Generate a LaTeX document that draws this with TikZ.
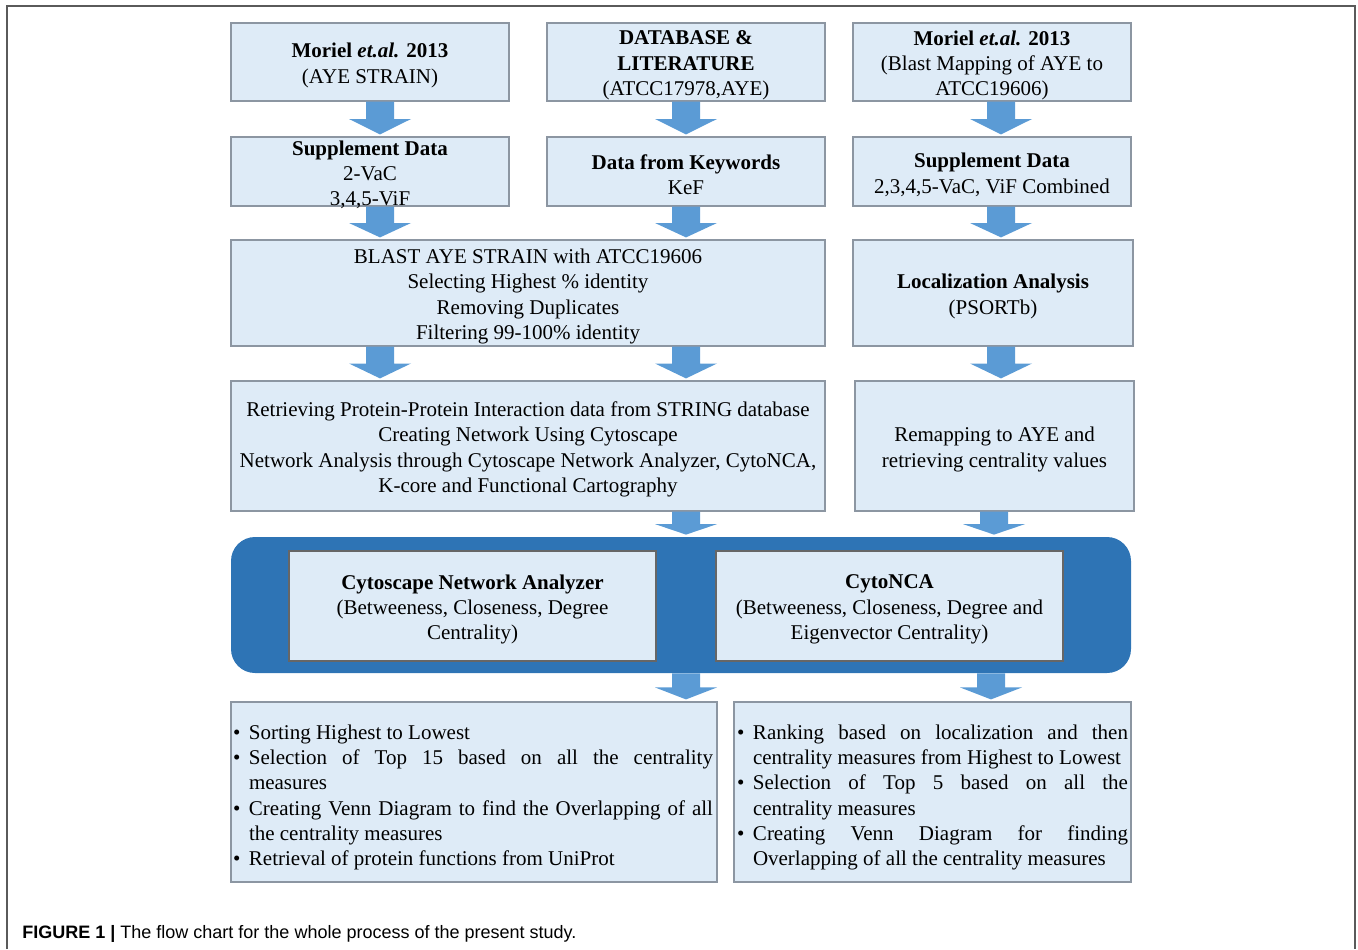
\documentclass[tikz,border=0pt]{standalone}
\usepackage{fontspec}
\setmainfont{Liberation Serif}
\newfontfamily\capfont{Liberation Sans}
\usetikzlibrary{fit,calc}
\definecolor{boxfill}{RGB}{222,235,247}
\definecolor{boxline}{RGB}{140,150,162}
\definecolor{arrowfill}{RGB}{91,155,213}
\definecolor{bigfill}{RGB}{46,116,181}
\definecolor{framec}{RGB}{90,90,90}
\tikzset{
  box/.style={draw=boxline, fill=boxfill, line width=0.6pt, inner sep=0pt},
  txt/.style={align=center, font=\fontsize{10.5}{12.65}\selectfont, inner sep=0pt, yshift=-1.7pt},
  bigbox/.style={fill=bigfill, rounded corners=12pt, inner sep=0pt},
  blist/.style={inner sep=0pt, font=\fontsize{10.5}{12.65}\selectfont, align=justify},
}
\newcommand\nohyph{\hyphenpenalty=10000 \exhyphenpenalty=10000 }
\newcommand\bitem[1]{\par\hangindent=8pt\hangafter=1\noindent\makebox[8pt][l]{\textbullet}#1}
\newcommand\blockarrow[3]{%
  \fill[arrowfill] let \p1=(#2.south -| #1), \p2=(#3.north -| #1), \n1={0.5*(\y1-\y2)} in
  (\x1-7pt,\y1) -- (\x1+7pt,\y1) -- (\x1+7pt,{\y2+\n1*1pt}) -- (\x1+15.5pt,{\y2+\n1*1pt})
  -- (\x1,\y2+1pt) -- (\x1-15.5pt,{\y2+\n1*1pt}) -- (\x1-7pt,{\y2+\n1*1pt}) -- cycle;}
\begin{document}
\begin{tikzpicture}[x=0.5pt,y=-0.5pt]
\useasboundingbox (0,0) rectangle (1358,949);
\draw[framec, line width=0.8pt] (7,949) -- (7,6) -- (1355,6) -- (1355,949);

% row 1
\node[box, fit={(231,23)(509,101)}] (A1) {};
\node[txt] (A1t) at (A1) {\textbf{Moriel \textit{et.al.} 2013}\\(AYE STRAIN)};
\node[box, fit={(547,23)(825,101)}] (B1) {};
\node[txt] (B1t) at (B1) {\textbf{DATABASE \&}\\\textbf{LITERATURE}\\(ATCC17978,AYE)};
\node[box, fit={(853,23)(1131,101)}] (C1) {};
\node[txt] (C1t) at (C1) {\textbf{Moriel \textit{et.al.} 2013}\\(Blast Mapping of AYE to\\ATCC19606)};

% row 2
\node[box, fit={(231,137)(509,206)}] (A2) {};
\node[txt] (A2t) at (A2) {\textbf{Supplement Data}\\2-VaC\\3,4,5-ViF};
\node[box, fit={(547,137)(825,206)}] (B2) {};
\node[txt] (B2t) at (B2) {\textbf{Data from Keywords}\\KeF};
\node[box, fit={(853,137)(1131,206)}] (C2) {};
\node[txt] (C2t) at (C2) {\textbf{Supplement Data}\\2,3,4,5-VaC, ViF Combined};

% row 3
\node[box, fit={(231,240)(825,346)}] (D) {};
\node[txt] (Dt) at (D) {BLAST AYE STRAIN with ATCC19606\\Selecting Highest \% identity\\Removing Duplicates\\Filtering 99-100\% identity};
\node[box, fit={(853,240)(1133,346)}] (C3) {};
\node[txt] (C3t) at (C3) {\textbf{Localization Analysis}\\(PSORTb)};

% row 4
\node[box, fit={(231,381)(825,511)}] (E) {};
\node[txt] (Et) at (E) {Retrieving Protein-Protein Interaction data from STRING database\\Creating Network Using Cytoscape\\Network Analysis through Cytoscape Network Analyzer, CytoNCA,\\K-core and Functional Cartography};
\node[box, fit={(855,381)(1134,511)}] (C4) {};
\node[txt] (C4t) at (C4) {Remapping to AYE and\\retrieving centrality values};

% row 5
\node[bigbox, fit={(231,537)(1131,673)}] (F) {};
\node[box, draw=black!60, fit={(289,551)(656,661)}] (F1) {};
\node[txt] (F1t) at (F1) {\textbf{Cytoscape Network Analyzer}\\(Betweeness, Closeness, Degree\\Centrality)};
\node[box, draw=black!60, fit={(716,551)(1063,661)}] (F2) {};
\node[txt] (F2t) at (F2) {\textbf{CytoNCA}\\(Betweeness, Closeness, Degree and\\Eigenvector Centrality)};

% row 6
\node[box, fit={(231,702)(717,882)}] (G1) {};
\node[blist, text width=240pt] (G1t) at ([xshift=-0.5pt]G1) {\nohyph
\bitem{Sorting Highest to Lowest}
\bitem{Selection of Top 15 based on all the centrality\linebreak measures}
\bitem{Creating Venn Diagram to find the Overlapping of all the centrality measures}
\bitem{Retrieval of protein functions from UniProt}\par};
\node[box, fit={(734,702)(1131,882)}] (G2) {};
\node[blist, text width=195.5pt] (G2t) at (G2) {\nohyph
\bitem{Ranking based on localization and then\linebreak centrality measures from Highest to Lowest}
\bitem{Selection of Top 5 based on all the\linebreak centrality measures}
\bitem{Creating Venn Diagram for finding\linebreak Overlapping of all the centrality measures}\par};

% arrows
\coordinate (xa) at (380,0);
\coordinate (xb) at (686,0);
\coordinate (xc) at (1001,0);
\coordinate (xd) at (994,0);
\coordinate (xe) at (991,0);
\blockarrow{xa}{A1}{A2}
\blockarrow{xb}{B1}{B2}
\blockarrow{xc}{C1}{C2}
\blockarrow{xa}{A2}{D}
\blockarrow{xb}{B2}{D}
\blockarrow{xc}{C2}{C3}
\blockarrow{xa}{D}{E}
\blockarrow{xb}{D}{E}
\blockarrow{xc}{C3}{C4}
\blockarrow{xb}{E}{F}
\blockarrow{xd}{C4}{F}
\blockarrow{xb}{F}{G1}
\blockarrow{xe}{F}{G2}

\node[anchor=base west, inner sep=0pt, font=\capfont\fontsize{9}{10.5}\selectfont] (cap) at (22,938)
  {\textbf{FIGURE 1 |} The flow chart for the whole process of the present study.};
\end{tikzpicture}
\end{document}
